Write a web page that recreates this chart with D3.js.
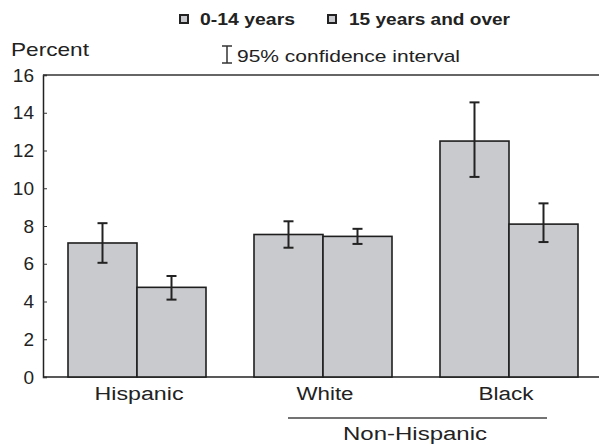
<!DOCTYPE html>
<html><head><meta charset="utf-8">
<script src="https://cdn.jsdelivr.net/npm/d3@7"></script>
<style>body{margin:0;background:#fff}svg{display:block}text{font-family:"Liberation Sans",Arial,sans-serif;fill:#222}</style>
</head><body><svg id="c" width="599" height="446"></svg>
<script>
const categories = ["Hispanic", "White", "Black"];
const series = ["0-14 years", "15 years and over"];
const values = [[7.1, 4.75], [7.55, 7.45], [12.5, 8.1]];
const ciLow = [[6.05, 4.1], [6.85, 7.05], [10.6, 7.15]];
const ciHigh = [[8.15, 5.35], [8.25, 7.85], [14.55, 9.2]];
const yTicks = [0, 2, 4, 6, 8, 10, 12, 14, 16];

(function () {
const svg = d3.select("#c");
const mL = 43, mR = 599, mT = 75, mB = 377;
const y = d3.scaleLinear().domain([0, 16]).range([mB, mT]);
const xc = d3.scalePoint().domain(categories).range([137, 509]);
const bw = 69;
const xs = d3.scaleBand().domain(series).range([-bw, bw]);

svg.append("line").attr("x1", mL).attr("x2", mR).attr("y1", mT).attr("y2", mT).attr("stroke", "#333").attr("stroke-width", 1.5);
svg.append("line").attr("x1", mL).attr("x2", mR).attr("y1", mB).attr("y2", mB).attr("stroke", "#222").attr("stroke-width", 1.5);

const yAxis = d3.axisLeft(y).tickValues(yTicks).tickSize(-4).tickPadding(9);
const ga = svg.append("g").attr("transform", `translate(${mL},0)`).call(yAxis);
ga.select(".domain").attr("stroke", "#222").attr("stroke-width", 1.5);
ga.selectAll(".tick line").attr("stroke", "#333");
ga.selectAll(".tick text").attr("font-size", 19).attr("fill", "#1a1a1a").style("font-family", '"Liberation Sans",Arial,sans-serif');

const g = svg.append("g");
const labelCx = {Hispanic: 139, White: 325, Black: 506};
const labelW = {Hispanic: 89, White: 57, Black: 55};
categories.forEach((c, i) => {
  series.forEach((s, j) => {
    const bx = xc(c) + xs(s);
    g.append("rect").attr("x", bx).attr("y", y(values[i][j])).attr("width", xs.bandwidth()).attr("height", y(0) - y(values[i][j]))
      .attr("fill", "#c9cacd").attr("stroke", "#1e1e1e").attr("stroke-width", 1.6);
    const cx = bx + xs.bandwidth() / 2;
    g.append("line").attr("x1", cx).attr("x2", cx).attr("y1", y(ciLow[i][j])).attr("y2", y(ciHigh[i][j])).attr("stroke", "#222").attr("stroke-width", 2);
    [ciLow[i][j], ciHigh[i][j]].forEach(v => {
      g.append("line").attr("x1", cx - 5).attr("x2", cx + 5).attr("y1", y(v)).attr("y2", y(v)).attr("stroke", "#222").attr("stroke-width", 2);
    });
  });
  svg.append("text").attr("x", labelCx[c]).attr("y", 400).attr("text-anchor", "middle").attr("font-size", 18)
    .attr("textLength", labelW[c]).attr("lengthAdjust", "spacingAndGlyphs").attr("fill", "#333").text(c);
});

svg.append("line").attr("x1", 288).attr("x2", 547).attr("y1", 418).attr("y2", 418).attr("stroke", "#444").attr("stroke-width", 1.5);
svg.append("text").attr("x", 343).attr("y", 440).attr("font-size", 18)
  .attr("textLength", 144).attr("lengthAdjust", "spacingAndGlyphs").text("Non-Hispanic");

svg.append("text").attr("x", 11).attr("y", 56).attr("font-size", 19)
  .attr("textLength", 78).attr("lengthAdjust", "spacingAndGlyphs").text("Percent");

const lg = [{x: 179, tx: 200, w: 95, label: series[0]}, {x: 327, tx: 349, w: 161, label: series[1]}];
lg.forEach(d => {
  svg.append("rect").attr("x", d.x + 1).attr("y", 15).attr("width", 8).attr("height", 8).attr("fill", "#c9cacd").attr("stroke", "#222").attr("stroke-width", 2);
  svg.append("text").attr("x", d.tx).attr("y", 25).attr("font-size", 17).attr("font-weight", "bold").attr("fill", "#333")
    .attr("textLength", d.w).attr("lengthAdjust", "spacingAndGlyphs").text(d.label);
});
svg.append("line").attr("x1", 227).attr("x2", 227).attr("y1", 46).attr("y2", 63).attr("stroke", "#333").attr("stroke-width", 1.5);
svg.append("line").attr("x1", 222).attr("x2", 232).attr("y1", 46).attr("y2", 46).attr("stroke", "#333").attr("stroke-width", 1.5);
svg.append("line").attr("x1", 222).attr("x2", 232).attr("y1", 63).attr("y2", 63).attr("stroke", "#333").attr("stroke-width", 1.5);
svg.append("text").attr("x", 237).attr("y", 62).attr("font-size", 17).attr("fill", "#333")
  .attr("textLength", 223).attr("lengthAdjust", "spacingAndGlyphs").text("95% confidence interval");
})();
</script></body></html>
